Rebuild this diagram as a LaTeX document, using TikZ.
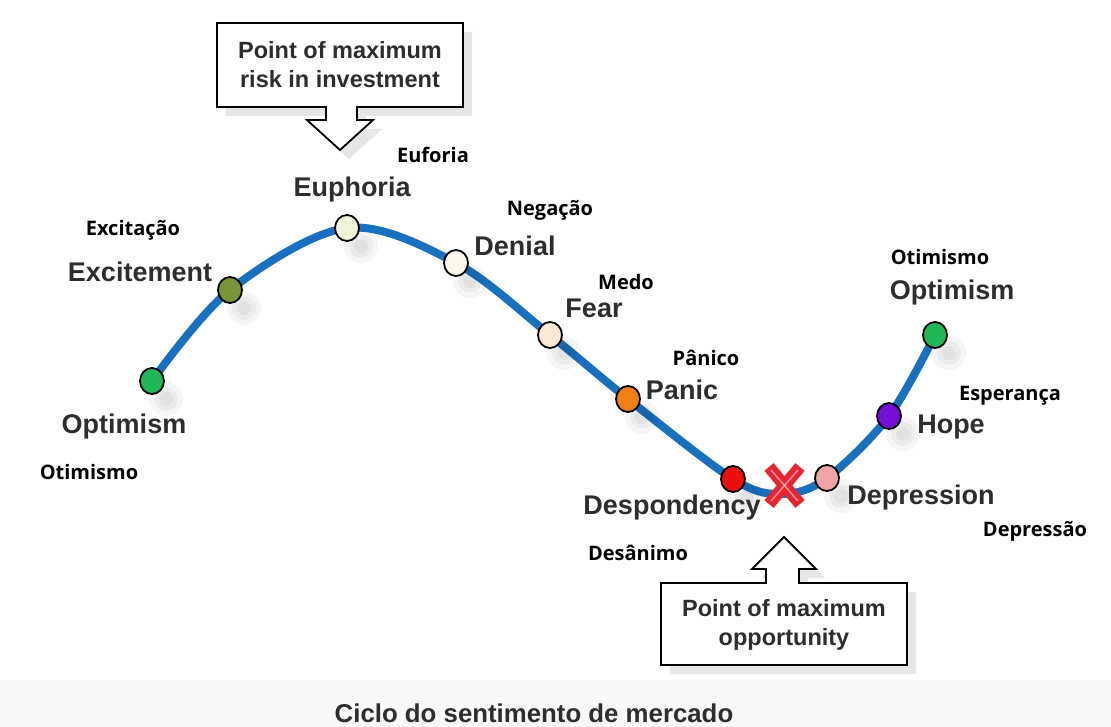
\documentclass[tikz,border=0pt]{standalone}
\usepackage{fontspec}
\usepackage{tikz}
\usetikzlibrary{shapes.geometric,shadows}
\newfontfamily\englabel{Liberation Sans}
\newfontfamily\ptlabel{Open Sans}

\definecolor{curveblue}{RGB}{24,112,192}
\definecolor{labelgrey}{RGB}{45,45,45}
\definecolor{captionbg}{RGB}{248,248,248}
\definecolor{optgreen}{RGB}{30,185,85}
\definecolor{excolive}{RGB}{120,150,55}
\definecolor{euppale}{RGB}{238,245,215}
\definecolor{dencream}{RGB}{252,246,236}
\definecolor{fearcream}{RGB}{250,232,210}
\definecolor{panicorange}{RGB}{240,128,20}
\definecolor{despred}{RGB}{235,15,15}
\definecolor{deprpink}{RGB}{240,165,165}
\definecolor{hopepurple}{RGB}{115,15,215}
\definecolor{crossred}{RGB}{232,36,48}

\begin{document}
\begin{tikzpicture}[
x=1pt, y=-1pt,
phase/.style={
ellipse,
draw=black,
line width=1.8pt,
minimum width=24pt,
minimum height=26pt,
inner sep=0pt
},
eng/.style={
text=labelgrey,
font=\englabel\bfseries\fontsize{27}{29}\selectfont
},
por/.style={
text=black,
font=\ptlabel\bfseries\fontsize{20}{22}\selectfont
},
callout/.style={
draw=black,
line width=1.8pt,
fill=white,
drop shadow={shadow xshift=9pt, shadow yshift=-9pt, opacity=0.2}
},
boxtext/.style={
text=labelgrey,
align=center,
font=\englabel\bfseries\fontsize{23.5}{29}\selectfont
}
]

\useasboundingbox (0,0) rectangle (1111,727);

% caption strip
\fill[captionbg] (0,680) rectangle (1111,727);
\node[text=labelgrey, font=\englabel\bfseries\fontsize{25.8}{28}\selectfont] (caption) at (534,713) {Ciclo do sentimento de mercado};

% points on the cycle
\coordinate (p1) at (152,381);
\coordinate (p2) at (230,290);
\coordinate (p3) at (347,228);
\coordinate (p4) at (456,263);
\coordinate (p5) at (550,335);
\coordinate (p6) at (628,399);
\coordinate (p7) at (733,479);
\coordinate (low) at (782,494);
\coordinate (p8) at (827,478);
\coordinate (p9) at (889,416);
\coordinate (p10) at (935,335);

% the curve
\draw[curveblue, line width=8pt, line cap=round]
plot[smooth, tension=0.55] coordinates {(p1) (p2) (p3) (p4) (p5) (p6) (p7) (low) (p8) (p9) (p10)};

% soft shadows of the dots
\foreach \p in {p1,p2,p3,p4,p5,p6,p7,p8,p9,p10}{
\fill[black, opacity=0.04] ([shift={(14,18)}]\p) circle (17pt);
\fill[black, opacity=0.04] ([shift={(14,18)}]\p) circle (12pt);
\fill[black, opacity=0.04] ([shift={(14,18)}]\p) circle (7pt);
}

\node[phase, fill=optgreen] (optA) at (p1) {};
\node[phase, fill=excolive] (excite) at (p2) {};
\node[phase, fill=euppale] (euph) at (p3) {};
\node[phase, fill=dencream] (deny) at (p4) {};
\node[phase, fill=fearcream] (fear) at (p5) {};
\node[phase, fill=panicorange] (panic) at (p6) {};
\node[phase, fill=despred] (desp) at (p7) {};
\node[phase, fill=deprpink] (depr) at (p8) {};
\node[phase, fill=hopepurple] (hope) at (p9) {};
\node[phase, fill=optgreen] (optB) at (p10) {};

% red cross at the bottom
\draw[crossred, line width=12pt] (769,467) -- (800,504);
\draw[crossred, line width=12pt] (800,467) -- (769,504);
\draw[white, opacity=0.5, line width=1.5pt] (771,470) -- (798,501);
\draw[white, opacity=0.5, line width=1.5pt] (798,470) -- (771,501);

% english labels
\node[eng] (lOptA) at (124,427) {Optimism};
\node[eng] (lExcite) at (140,272) {Excitement};
\node[eng] (lEuph) at (352,190) {Euphoria};
\node[eng] (lDeny) at (515,246) {Denial};
\node[eng] (lFear) at (594,308) {Fear};
\node[eng] (lPanic) at (682,390) {Panic};
\node[eng] (lDesp) at (672,508) {Despondency};
\node[eng] (lDepr) at (921,498) {Depression};
\node[eng] (lHope) at (951,427) {Hope};
\node[eng] (lOptB) at (952,293) {Optimism};

% portuguese labels
\node[por] (tOptA) at (89,472) {Otimismo};
\node[por] (tExcite) at (133,230) {Excitação};
\node[por] (tEuph) at (433,155) {Euforia};
\node[por] (tDeny) at (550,210) {Negação};
\node[por] (tFear) at (626,282) {Medo};
\node[por] (tPanic) at (706,358) {Pânico};
\node[por] (tDesp) at (638,553) {Desânimo};
\node[por] (tOptB) at (940,257) {Otimismo};
\node[por] (tHope) at (1010,396) {Esperança};
\node[por] (tDepr) at (1035,531) {Depressão};

% callout: maximum risk
\draw[callout] (217,23) -- (463,23) -- (463,107) -- (357,107) -- (357,120) -- (373,120)
-- (340,150) -- (307,120) -- (326,120) -- (326,107) -- (217,107) -- cycle;
\node[boxtext] (riskText) at (340,65) {Point of maximum\\risk in investment};

% callout: maximum opportunity
\draw[callout] (661,583) -- (766,583) -- (766,569) -- (752,569) -- (784,537) -- (816,569)
-- (799,569) -- (799,583) -- (907,583) -- (907,665) -- (661,665) -- cycle;
\node[boxtext] (oppText) at (784,625) {Point of maximum\\opportunity};

\end{tikzpicture}
\end{document}
